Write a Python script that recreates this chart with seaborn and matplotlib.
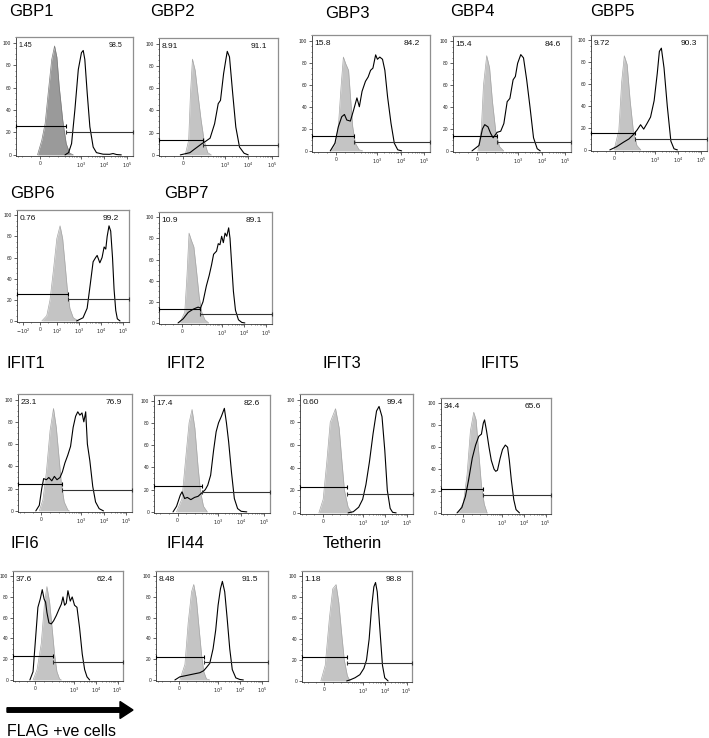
import matplotlib.pyplot as plt
import seaborn as sns
from matplotlib.patches import FancyArrow
from matplotlib.ticker import MultipleLocator

# ---------------------------------------------------------------
# Data: x = fluorescence intensity (FLAG), y = % of max
# ctrl = grey filled histogram, flag = black outline histogram
# ---------------------------------------------------------------
gbp1_ctrl_x = [-13, 11, 30, 49, 67, 83, 96, 117, 166, 235, 333, 473]
gbp1_ctrl_y = [0, 13, 28, 58, 85, 97, 87, 61, 31, 10, 1.5, 0]
gbp1_flag_x = [209, 297, 400, 555, 780, 1066, 1270, 1490, 1890, 2460, 3412, 4730, 9180, 17378, 24600, 34900, 55600]
gbp1_flag_y = [0, 2, 10, 40, 76, 91, 93, 85, 55, 25, 7, 2, 0.6, 0.5, 1.2, 0.3, 0]

gbp2_ctrl_x = [11, 30, 40, 51, 66, 81, 99, 131, 187, 264]
gbp2_ctrl_y = [0, 13, 55, 86, 76, 55, 31, 13, 2, 0]
gbp2_flag_x = [-16, 37, 61, 86, 104, 148, 235, 366, 520, 650, 880, 1105, 1260, 1565, 2143, 2900, 4160, 6480, 9720]
gbp2_flag_y = [0, 2, 5, 8, 10, 12, 15, 28, 46, 49, 73, 86, 93, 88, 55, 25, 7, 1.5, 0]

gbp3_ctrl_x = [-32, -6, 13, 28, 41, 54, 70, 82, 93, 114, 166, 235]
gbp3_ctrl_y = [0, 6, 22, 58, 85, 79, 73, 46, 22, 7, 1, 0]
gbp3_flag_x = [-32, -6, 13, 32, 47, 60, 80, 98, 134, 170, 222, 310, 405, 513, 647, 845, 1007, 1270, 1660,
               2095, 2735, 3833, 5300, 7440, 10900]
gbp3_flag_y = [0, 7, 22, 31, 33, 28, 27, 37, 48, 40, 54, 63, 67, 73, 75, 87, 83, 85, 83, 73, 49, 25, 7, 1, 0]

gbp4_ctrl_x = [5, 24, 36, 54, 70, 86, 108, 155, 235]
gbp4_ctrl_y = [0, 20, 60, 87, 76, 45, 18, 4, 0]
gbp4_flag_x = [-28, 11, 30, 43, 61, 76, 90, 124, 176, 240, 333, 435, 597, 745, 930, 1270, 1660, 2270, 3150,
               4450, 6400, 8650]
gbp4_flag_y = [0, 5, 20, 24, 22, 16, 12, 17, 18, 25, 45, 48, 65, 68, 80, 88, 85, 65, 40, 12, 2, 0]

gbp5_ctrl_x = [-3, 24, 40, 55, 71, 88, 112, 160, 235]
gbp5_ctrl_y = [0, 18, 62, 86, 78, 45, 17, 4, 0]
gbp5_flag_x = [-27, 12, 50, 81, 112, 160, 230, 315, 435, 625, 895, 1225, 1512, 1845, 2407, 3340, 4780, 6550, 9180]
gbp5_flag_y = [0, 3, 7, 10, 14, 18, 23, 19, 24, 30, 45, 70, 90, 93, 75, 40, 8, 1, 0]

gbp6_ctrl_x = [12, 41, 60, 80, 100, 140, 183, 232, 297, 387, 550, 950]
gbp6_ctrl_y = [0, 5, 20, 48, 78, 90, 78, 55, 30, 12, 3, 0]
gbp6_flag_x = [780, 1512, 2320, 3220, 4305, 5600, 6550, 8650, 10900, 13500, 16000, 18500, 22400, 26700, 32200,
               37800, 45000, 53100, 70000]
gbp6_flag_y = [0, 3, 12, 35, 56, 60, 62, 55, 60, 70, 68, 80, 90, 85, 60, 30, 10, 2, 0]

gbp7_ctrl_x = [-13, 16, 29, 41, 55, 69, 84, 100, 131, 180, 264]
gbp7_ctrl_y = [0, 10, 45, 85, 78, 72, 50, 25, 10, 3, 0]
gbp7_flag_x = [-23, 7, 36, 65, 94, 114, 148, 209, 280, 357, 440, 597, 710, 845, 1007, 1198, 1430, 1698, 2070,
               2380, 2830, 3370, 4170, 5660, 7970, 10900]
gbp7_flag_y = [0, 4, 10, 13, 15, 14, 20, 35, 45, 55, 65, 68, 75, 74, 82, 76, 85, 82, 90, 80, 55, 30, 12, 3, 0.5, 0]

ifit1_ctrl_x = [-11, 10, 30, 51, 71, 87, 103, 133, 178, 256, 297]
ifit1_ctrl_y = [0, 10, 35, 72, 92, 75, 50, 25, 8, 1, 0]
ifit1_flag_x = [-31, -11, 3, 14, 30, 44, 61, 76, 91, 116, 148, 191, 256, 341, 443, 570, 710, 880, 1090, 1315,
                1590, 1890, 2430, 3260, 4350, 6280, 9720]
ifit1_flag_y = [0, 5, 20, 29, 28, 30, 27, 31, 28, 30, 35, 43, 50, 58, 75, 85, 89, 86, 88, 80, 89, 60, 45, 22, 8, 2, 0]

ifit2_ctrl_x = [-6, 25, 44, 65, 82, 98, 133, 170, 228, 333]
ifit2_ctrl_y = [0, 12, 45, 80, 92, 75, 40, 18, 5, 0]
ifit2_flag_x = [-26, -6, 15, 25, 40, 55, 75, 96, 133, 191, 274, 350, 468, 625, 810, 1030, 1380, 1845, 2270,
                2830, 3790, 5010, 6930, 9940, 17400]
ifit2_flag_y = [0, 5, 15, 18, 12, 13, 11, 13, 14, 17, 20, 24, 33, 55, 72, 80, 86, 93, 80, 63, 35, 12, 3, 0.5, 0]

ifit3_ctrl_x = [-24, 1, 22, 42, 73, 94, 120, 155, 226, 333]
ifit3_ctrl_y = [0, 12, 45, 80, 92, 75, 45, 20, 5, 0]
ifit3_flag_x = [226, 385, 670, 1010, 1410, 2020, 2940, 4200, 5430, 7360, 9820, 12700, 17000, 21900, 31500]
ifit3_flag_y = [0, 1, 5, 12, 25, 45, 70, 90, 94, 85, 55, 20, 4, 0.5, 0]

ifit5_ctrl_x = [-29, 1, 22, 42, 62, 76, 92, 115, 155, 209]
ifit5_ctrl_y = [0, 10, 35, 75, 92, 85, 55, 25, 8, 0]
ifit5_flag_x = [-38, -9, 12, 31, 53, 73, 92, 115, 140, 160, 197, 256, 326, 435, 520, 625, 830, 1066, 1430,
                1820, 2190, 2700, 3500, 4450, 6400]
ifit5_flag_y = [0, 5, 15, 30, 50, 62, 70, 72, 82, 85, 75, 60, 48, 40, 38, 39, 50, 58, 62, 60, 48, 30, 12, 3, 0]

ifi6_ctrl_x = [-14, 10, 35, 55, 69, 85, 100, 129, 166, 219, 264]
ifi6_ctrl_y = [0, 10, 35, 75, 90, 75, 50, 25, 8, 1, 0]
ifi6_flag_x = [-33, -14, 1, 15, 29, 41, 52, 61, 69, 81, 95, 117, 155, 205, 264, 315, 374, 447, 531, 680, 835,
               1066, 1380, 1820, 2407, 3100, 3980, 5270]
ifi6_flag_y = [0, 8, 40, 70, 78, 87, 78, 75, 65, 55, 54, 57, 62, 68, 73, 80, 72, 74, 86, 76, 80, 72, 70, 50,
               25, 10, 3, 0]

ifi44_ctrl_x = [6, 36, 55, 75, 88, 106, 140, 180, 228, 300, 420]
ifi44_ctrl_y = [0, 15, 55, 85, 92, 78, 50, 25, 8, 1, 0]
ifi44_flag_x = [-23, 6, 36, 65, 94, 152, 228, 300, 425, 597, 785, 1007, 1290, 1570, 2000, 2560, 3370, 4380,
                6340, 9500, 13800]
ifi44_flag_y = [0, 3, 4, 5, 6, 7, 9, 12, 16, 30, 48, 72, 88, 95, 85, 60, 30, 10, 2, 0.5, 0]

teth_ctrl_x = [-21, 5, 30, 50, 70, 86, 106, 140, 193, 256]
teth_ctrl_y = [0, 15, 60, 88, 92, 75, 45, 20, 5, 0]
teth_flag_x = [180, 256, 430, 725, 1105, 1460, 1930, 2490, 3180, 3790, 4540, 5960, 7870, 10030, 14250]
teth_flag_y = [0, 1, 3, 6, 12, 20, 40, 70, 90, 94, 85, 50, 15, 3, 0]

# gate cut point, gate heights (left, right), gate percentages
gate_cut = [230, 121, 98, 124, 127, 325, 107, 140, 191, 200, 135, 110, 228, 180]
gate_left_y = [26, 13, 13.6, 13.5, 15, 25.6, 13, 24, 23, 23, 21.6, 23, 22.4, 22.4]
gate_right_y = [20.5, 8.5, 8, 8.5, 10, 21, 8, 18.5, 17.5, 16.5, 16, 17.7, 17.3, 17]
pct_neg = ["1.45", "8.91", "15.8", "15.4", "9.72", "0.76", "10.9", "23.1", "17.4", "0.60", "34.4", "37.6", "8.48", "1.18"]
pct_pos = ["98.5", "91.1", "84.2", "84.6", "90.3", "99.2", "89.1", "76.9", "82.6", "99.4", "65.6", "62.4", "91.5", "98.8"]

names = ["GBP1", "GBP2", "GBP3", "GBP4", "GBP5", "GBP6", "GBP7",
         "IFIT1", "IFIT2", "IFIT3", "IFIT5", "IFI6", "IFI44", "Tetherin"]
ctrl = [(gbp1_ctrl_x, gbp1_ctrl_y), (gbp2_ctrl_x, gbp2_ctrl_y), (gbp3_ctrl_x, gbp3_ctrl_y),
        (gbp4_ctrl_x, gbp4_ctrl_y), (gbp5_ctrl_x, gbp5_ctrl_y), (gbp6_ctrl_x, gbp6_ctrl_y),
        (gbp7_ctrl_x, gbp7_ctrl_y), (ifit1_ctrl_x, ifit1_ctrl_y), (ifit2_ctrl_x, ifit2_ctrl_y),
        (ifit3_ctrl_x, ifit3_ctrl_y), (ifit5_ctrl_x, ifit5_ctrl_y), (ifi6_ctrl_x, ifi6_ctrl_y),
        (ifi44_ctrl_x, ifi44_ctrl_y), (teth_ctrl_x, teth_ctrl_y)]
flag = [(gbp1_flag_x, gbp1_flag_y), (gbp2_flag_x, gbp2_flag_y), (gbp3_flag_x, gbp3_flag_y),
        (gbp4_flag_x, gbp4_flag_y), (gbp5_flag_x, gbp5_flag_y), (gbp6_flag_x, gbp6_flag_y),
        (gbp7_flag_x, gbp7_flag_y), (ifit1_flag_x, ifit1_flag_y), (ifit2_flag_x, ifit2_flag_y),
        (ifit3_flag_x, ifit3_flag_y), (ifit5_flag_x, ifit5_flag_y), (ifi6_flag_x, ifi6_flag_y),
        (ifi44_flag_x, ifi44_flag_y), (teth_flag_x, teth_flag_y)]

# ---------------------------------------------------------------
# Layout (pixels in a 709 x 738 canvas): axes box l, t, r, b and title anchor
# ---------------------------------------------------------------
W, H = 709, 738
boxes = [(16, 37, 133, 156), (159, 38, 278, 156), (312, 35, 430, 152), (453, 36, 571, 152),
         (591, 35, 707, 151), (17, 210, 129, 322), (159, 212, 272, 324),
         (18, 394, 132, 512), (154, 395, 270, 513), (300, 394, 413, 514), (441, 398, 551, 514),
         (13, 571, 123, 681), (156, 571, 268, 681), (302, 571, 412, 682)]
titles = [(9, 12), (150, 12), (325, 13), (450, 12), (590, 12), (10, 193), (164, 193),
          (6, 363), (167, 363), (323, 363), (480, 363), (10, 543), (167, 543), (323, 543)]

XMIN, XMAX = -182, 1.78e5
FONT = ["Liberation Sans", "DejaVu Sans"]

sns.set_theme(style="ticks")
plt.rcParams["font.family"] = FONT

fig = plt.figure(figsize=(W / 100, H / 100), dpi=100)
fig.patch.set_facecolor("white")

# overlay in pixel coordinates for titles and the arrow
bg = fig.add_axes([0, 0, 1, 1])
bg.set_xlim(0, W)
bg.set_ylim(H, 0)
bg.axis("off")

minor_x = [-150, -100, -50, 50, 100] + [m * 10 ** k for k in (2, 3, 4) for m in range(2, 10)]

for i, name in enumerate(names):
    l, t, r, b = boxes[i]
    ax = fig.add_axes([l / W, 1 - b / H, (r - l) / W, (b - t) / H])
    ax.set_xscale("symlog", linthresh=100, linscale=0.69)

    cx, cy = ctrl[i]
    fill = "#9a9a9a" if i == 0 else "#c4c4c4"
    edge = "#7a7a7a" if i == 0 else "#a6a6a6"
    ax.fill_between(cx, 0, cy, color=fill, lw=0, zorder=1)
    ax.plot(cx, cy, color=edge, lw=0.5, zorder=2)

    fx, fy = flag[i]
    sns.lineplot(x=fx, y=fy, ax=ax, color="black", lw=0.8, estimator=None,
                 sort=False, legend=False, zorder=3)

    # gates
    cut = gate_cut[i]
    ax.plot([XMIN, cut], [gate_left_y[i]] * 2, color="black", lw=0.8,
            marker="|", ms=3.5, mew=0.8, zorder=4, clip_on=False)
    ax.plot([cut, XMAX], [gate_right_y[i]] * 2, color="#333333", lw=0.8,
            marker="|", ms=3.5, mew=0.8, zorder=4, clip_on=False)

    fs = 5 if i == 0 else 6
    ax.text(0.02, 0.925, pct_neg[i], transform=ax.transAxes, fontsize=fs,
            ha="left", va="center", color="#111111")
    ax.text(0.91, 0.925, pct_pos[i], transform=ax.transAxes, fontsize=fs,
            ha="right", va="center", color="#111111")

    ax.set_xlim(XMIN, XMAX)
    ax.set_ylim(-1, 105)
    ax.set_xlabel("")
    ax.set_ylabel("")

    if name == "GBP6":
        ax.set_xticks([-100, 0, 100, 1e3, 1e4, 1e5],
                      [r"$-10^2$", "0", r"$10^2$", r"$10^3$", r"$10^4$", r"$10^5$"])
    else:
        ax.set_xticks([0, 1e3, 1e4, 1e5], ["0", r"$10^3$", r"$10^4$", r"$10^5$"])
    ax.set_xticks(minor_x, minor=True)
    ax.set_yticks([0, 20, 40, 60, 80, 100], ["0", "20", "40", "60", "80", "100"])
    ax.yaxis.set_minor_locator(MultipleLocator(5))
    ax.tick_params(which="major", length=2, width=0.5, pad=1.5, labelsize=3.5,
                   colors="#222222")
    ax.tick_params(which="minor", length=1, width=0.4, colors="#222222")

    for side in ["top", "right"]:
        ax.spines[side].set_color("#8f8f8f")
        ax.spines[side].set_linewidth(0.9)
    for side in ["left", "bottom"]:
        ax.spines[side].set_color("#333333")
        ax.spines[side].set_linewidth(0.6)

    tx, ty = titles[i]
    bg.text(tx, ty, name, fontsize=12, ha="left", va="center", color="black")

# FLAG arrow and label
bg.add_patch(FancyArrow(7, 710, 126, 0, width=4.5, head_width=17, head_length=13,
                        length_includes_head=True, color="black"))
bg.text(7, 731, "FLAG +ve cells", fontsize=11.5, ha="left", va="center", color="black")

fig.savefig("out.png", dpi=100)
